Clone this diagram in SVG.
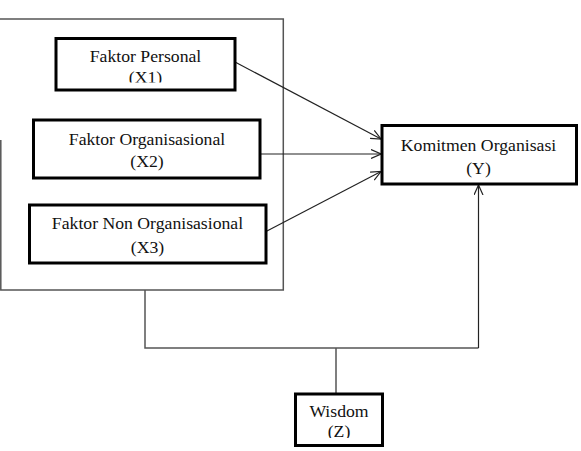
<svg xmlns="http://www.w3.org/2000/svg" width="581" height="451" viewBox="0 0 581 451">
<style>
.box{fill:#fff;stroke:#000;stroke-width:3}
.t{font-family:"Liberation Serif","Times New Roman",serif;font-size:17.7px;fill:#111;text-anchor:middle}
.c{fill:none;stroke:#222;stroke-width:1.2}
.g{fill:none;stroke:#555;stroke-width:1.5}
</style>
<defs>
<marker id="ah" viewBox="0 0 10 10" refX="10" refY="5" markerWidth="10" markerHeight="10" markerUnits="userSpaceOnUse" orient="auto">
<path d="M0,0.5 L10,5 L0,9.5" fill="none" stroke="#222" stroke-width="1.2"/>
</marker>
<clipPath id="cx1"><rect x="0" y="0" width="581" height="82.5"/></clipPath>
<clipPath id="cz"><rect x="0" y="0" width="581" height="438"/></clipPath>
</defs>
<g id="frame">
<path class="g" d="M0.8,140 V290 H283.3 V19 H0"/>
</g>
<g id="connectors">
<path class="c" d="M235,62 L381,139" marker-end="url(#ah)"/>
<path class="c" d="M260,154 L381,154" marker-end="url(#ah)"/>
<path class="c" d="M266,231.5 L381,171.5" marker-end="url(#ah)"/>
<path class="g" d="M145,290 V348 H478.5"/>
<path class="c" d="M478.5,348 V185" marker-end="url(#ah)"/>
<path class="g" d="M336,348 V393"/>
</g>
<g id="x1">
<rect class="box" x="56" y="38.5" width="179" height="51.5"/>
<text class="t" x="145.5" y="62">Faktor Personal</text>
<text class="t" x="145.5" y="82.5" clip-path="url(#cx1)">(X1)</text>
</g>
<g id="x2">
<rect class="box" x="33.5" y="120" width="226.5" height="58"/>
<text class="t" x="147" y="145">Faktor Organisasional</text>
<text class="t" x="147" y="167">(X2)</text>
</g>
<g id="x3">
<rect class="box" x="29.5" y="205" width="236.5" height="58"/>
<text class="t" x="147.5" y="228.5">Faktor Non Organisasional</text>
<text class="t" x="147.5" y="253">(X3)</text>
</g>
<g id="y">
<rect class="box" x="382" y="125.5" width="194.5" height="58.5"/>
<text class="t" x="478.5" y="151">Komitmen Organisasi</text>
<text class="t" x="478.5" y="173.5">(Y)</text>
</g>
<g id="z">
<rect class="box" x="295.5" y="394" width="87" height="51.5"/>
<text class="t" x="339" y="416.5">Wisdom</text>
<text class="t" x="339" y="437" clip-path="url(#cz)">(Z)</text>
</g>
</svg>
